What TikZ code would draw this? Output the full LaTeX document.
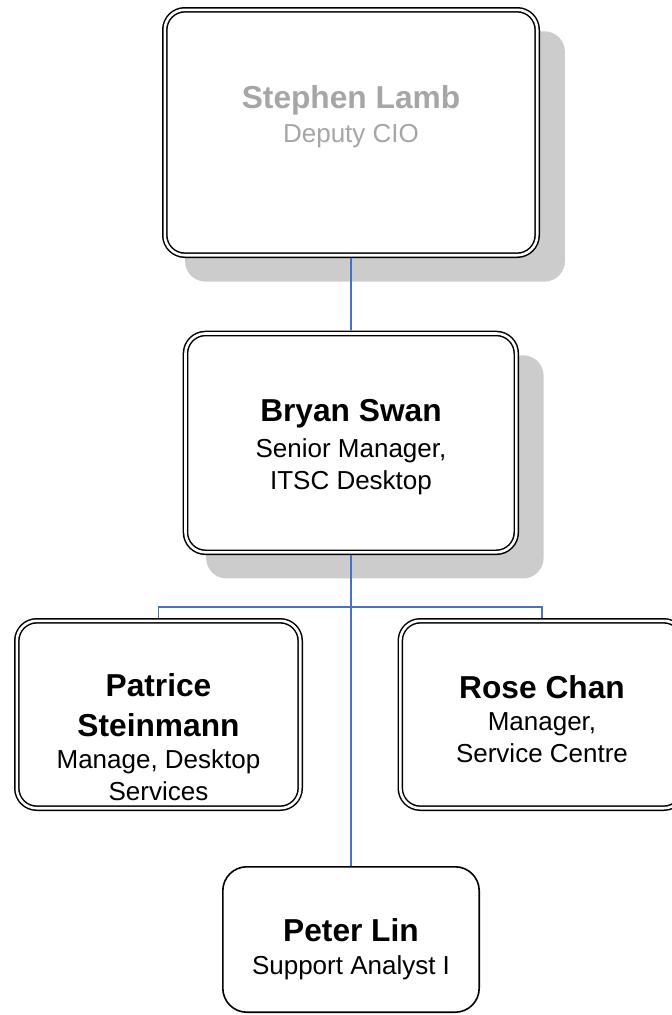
\documentclass[tikz,border=0pt]{standalone}
\usepackage{fontspec}
\setmainfont{Liberation Sans}
\usepackage{tikz}
\usetikzlibrary{shadows}
\definecolor{linkblue}{RGB}{68,114,196}
\definecolor{shadowgray}{RGB}{204,204,204}
\definecolor{fadedtext}{RGB}{166,166,166}

\begin{document}
\begin{tikzpicture}[x=1pt, y=-1pt,
    card/.style={draw, fill=white, rectangle, rounded corners=20pt, line width=1.5pt, double=white, double distance=2.6pt, outer sep=2.8pt, inner sep=0pt},
    shadowed/.style={drop shadow={shadow xshift=23.5pt, shadow yshift=-23.5pt, shadow scale=1.02, fill=shadowgray, opacity=1}},
    plaincard/.style={draw, fill=white, rectangle, rounded corners=24pt, line width=1.6pt, inner sep=0pt},
    who/.style={align=center, inner sep=0pt, font=\fontsize{26}{32}\selectfont},
    link/.style={draw=linkblue, line width=1.8pt}]
        \useasboundingbox (0,0) rectangle (672,1015);
        % boxes
        \node[card, shadowed, minimum width=372.4pt, minimum height=245.4pt] (lamb) at (351,132.5) {};
        \node[card, shadowed, minimum width=330.8pt, minimum height=218.8pt] (bryan) at (350.9,442.9) {};
        \node[card, minimum width=283.4pt, minimum height=187.4pt] (patrice) at (158.5,714.5) {};
        \node[card, minimum width=283.4pt, minimum height=187.4pt] (rose) at (542,714.5) {};
        \node[plaincard, minimum width=256.4pt, minimum height=145.4pt] (peter) at (351,939.5) {};
        % texts
        \node[who, text=fadedtext] (lambtext) at (351,116.3) {{\fontsize{31.7}{38}\selectfont\bfseries Stephen Lamb}\\[2pt] Deputy CIO};
        \node[who] (bryantext) at (351,446.9) {{\fontsize{31.7}{38}\selectfont\bfseries Bryan Swan}\\[4pt] Senior Manager,\\ ITSC Desktop};
        \node[who] (patricetext) at (158.5,737.5) {{\fontsize{31.7}{38}\selectfont\bfseries Patrice}\\[8pt] {\fontsize{31.7}{38}\selectfont\bfseries Steinmann}\\ Manage, Desktop\\ Services};
        \node[who] (rosetext) at (542,719.6) {{\fontsize{31.7}{38}\selectfont\bfseries Rose Chan}\\ Manager,\\ Service Centre};
        \node[who] (petertext) at (351,949.7) {{\fontsize{31.7}{38}\selectfont\bfseries Peter Lin}\\[1pt] Support Analyst I};
        % connectors
        \draw[link] (lamb.south) -- (bryan.north);
        \draw[link] (bryan.south) -- (peter.north);
        \draw[link] (patrice.north) -- ++(0,-11) -| (rose.north);
\end{tikzpicture}
\end{document}
